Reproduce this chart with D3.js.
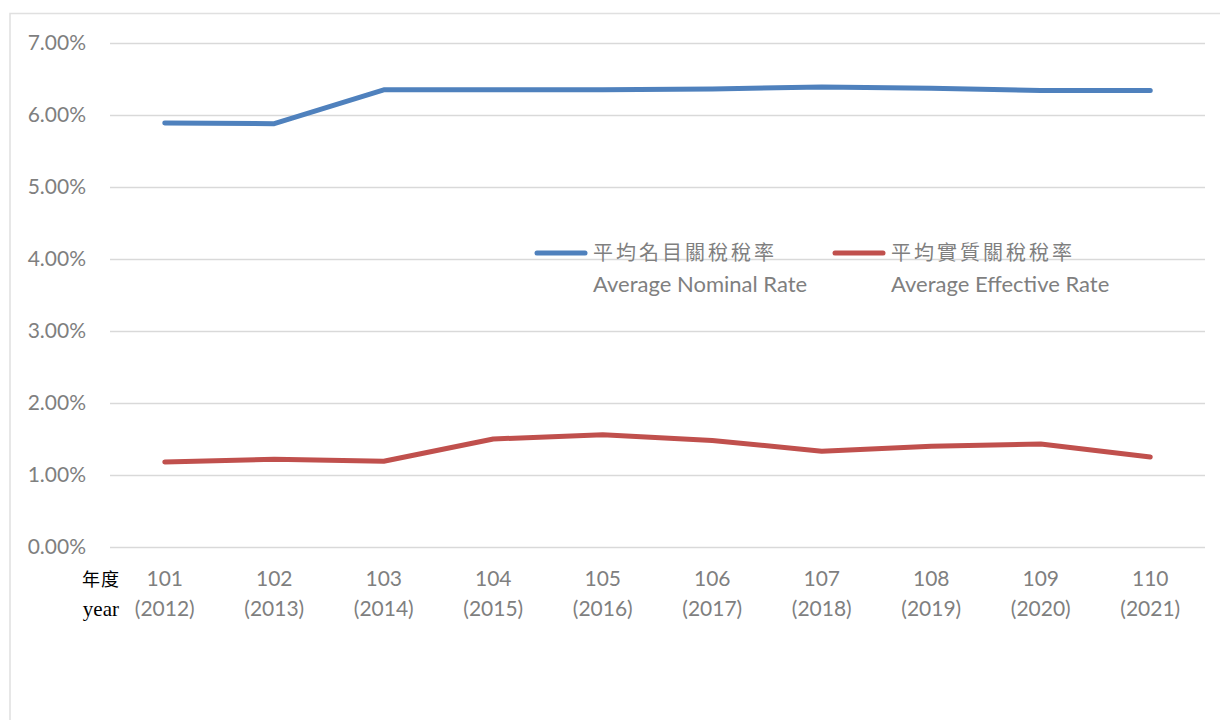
<!DOCTYPE html>
<html>
<head>
<meta charset="utf-8">
<script src="https://cdn.jsdelivr.net/npm/d3@7"></script>
<style>
  body { margin: 0; background: #fff; }
  #chart { width: 1220px; height: 720px; }
</style>
</head>
<body>
<div id="chart"></div>
<script>
// data
const years = ['101', '102', '103', '104', '105', '106', '107', '108', '109', '110'];
const westernYears = ['(2012)', '(2013)', '(2014)', '(2015)', '(2016)', '(2017)', '(2018)', '(2019)', '(2020)', '(2021)'];
const nominalRate = [5.89, 5.88, 6.35, 6.35, 6.35, 6.36, 6.39, 6.37, 6.34, 6.34];
const effectiveRate = [1.18, 1.22, 1.19, 1.50, 1.56, 1.48, 1.33, 1.40, 1.43, 1.25];
const yTicks = [0, 1, 2, 3, 4, 5, 6, 7];
const seriesNames = [
  { zh: '平均名目關稅稅率', en: 'Average Nominal Rate' },
  { zh: '平均實質關稅稅率', en: 'Average Effective Rate' }
];

const W = 1220, H = 720;
const margin = { top: 43, right: 15, bottom: 173, left: 110 };
const width = W - margin.left - margin.right;
const height = H - margin.top - margin.bottom;
const tickColor = '#7f7f7f';
const font = 'Lato, "Open Sans", sans-serif';
const fontSize = '21px';

const svg = d3.select('#chart')
  .append('svg')
  .attr('width', W)
  .attr('height', H);

// outer frame of the chart area
svg.append('path')
  .attr('d', `M10,${H + 2}V13.5H${W + 2}`)
  .attr('fill', 'none')
  .attr('stroke', '#e0e0e0')
  .attr('stroke-width', 1.5);

const g = svg.append('g')
  .attr('transform', `translate(${margin.left},${margin.top})`);

const x = d3.scaleBand()
  .domain(years)
  .range([0, width]);

const y = d3.scaleLinear()
  .domain([0, 7])
  .range([height, 0]);

// gridlines + y labels
const yAxis = g.append('g')
  .call(d3.axisLeft(y).tickValues(yTicks).tickSize(-width).tickFormat(d => d.toFixed(2) + '%'));
yAxis.select('.domain').remove();
yAxis.selectAll('.tick line')
  .attr('stroke', '#d9d9d9')
  .attr('stroke-width', 1.3);
yAxis.selectAll('.tick text')
  .attr('x', -24)
  .attr('fill', tickColor)
  .style('font-family', font)
  .style('font-size', fontSize);

// x labels, two lines each
const xAxis = g.append('g')
  .attr('transform', `translate(0,${height})`)
  .call(d3.axisBottom(x).tickSize(0).tickFormat(''));
xAxis.select('.domain').remove();
xAxis.selectAll('.tick text').remove();
xAxis.selectAll('.tick').each(function (d, i) {
  const tk = d3.select(this);
  [d, westernYears[i]].forEach((label, k) => {
    tk.append('text')
      .attr('y', 39 + k * 30)
      .attr('text-anchor', 'middle')
      .attr('fill', tickColor)
      .style('font-family', font)
      .style('font-size', fontSize)
      .text(label);
  });
});

// axis title on the left
g.append('text')
  .attr('x', 10)
  .attr('y', height + 39)
  .attr('text-anchor', 'end')
  .attr('fill', '#000')
  .style('font-family', '"Noto Sans CJK TC", serif')
  .style('font-size', '18px')
  .style('letter-spacing', '1px')
  .text('年度');
g.append('text')
  .attr('x', 9)
  .attr('y', height + 69)
  .attr('text-anchor', 'end')
  .attr('fill', '#000')
  .style('font-family', '"Liberation Serif", serif')
  .style('font-size', '21px')
  .text('year');

// lines
const line = d3.line()
  .x((d, i) => x(years[i]) + x.bandwidth() / 2)
  .y(d => y(d));

const series = [
  { values: nominalRate, color: '#4f81bd' },
  { values: effectiveRate, color: '#c0504d' }
];

series.forEach(s => {
  g.append('path')
    .datum(s.values)
    .attr('fill', 'none')
    .attr('stroke', s.color)
    .attr('stroke-width', 5)
    .attr('stroke-linecap', 'round')
    .attr('stroke-linejoin', 'round')
    .attr('d', line);
});

// legend
const legendX = [537, 835];
series.forEach((s, i) => {
  const lg = svg.append('g').attr('transform', `translate(${legendX[i]},253)`);
  lg.append('line')
    .attr('x1', 0).attr('x2', 48)
    .attr('stroke', s.color)
    .attr('stroke-width', 5)
    .attr('stroke-linecap', 'round');
  lg.append('text')
    .attr('x', 56)
    .attr('y', 7)
    .attr('fill', tickColor)
    .style('font-family', '"Noto Sans CJK TC", sans-serif')
    .style('font-size', '20px')
    .style('letter-spacing', '3px')
    .text(seriesNames[i].zh);
  lg.append('text')
    .attr('x', 56)
    .attr('y', 39)
    .attr('fill', tickColor)
    .style('font-family', font)
    .style('font-size', '22px')
    .text(seriesNames[i].en);
});
</script>
</body>
</html>
